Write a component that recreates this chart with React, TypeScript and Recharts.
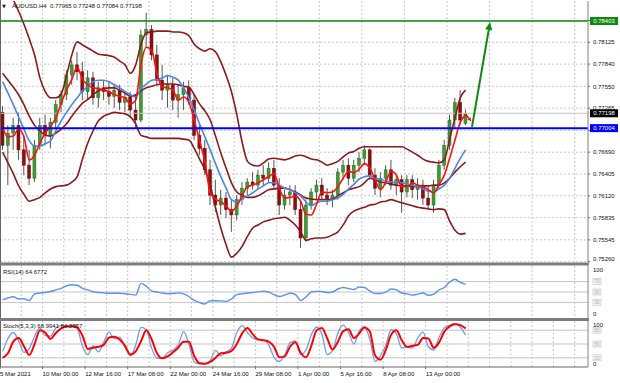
import * as React from "react"
import { Bar, CartesianGrid, ComposedChart, Line, ReferenceLine, XAxis, YAxis } from "recharts"

// AUDUSD H4 candles, one entry per drawn candle
const open = [
    0.7721, 0.7678, 0.7694, 0.7704, 0.7672, 0.7652, 0.7635, 0.7678, 0.7704, 0.7691,
    0.7708, 0.7731, 0.7744, 0.7770, 0.7783, 0.7774, 0.7748, 0.7766, 0.7740, 0.7753,
    0.7748, 0.7742, 0.7750, 0.7734, 0.7741, 0.7724, 0.7711, 0.7822, 0.7829, 0.7796,
    0.7763, 0.7750, 0.7757, 0.7737, 0.7744, 0.7753, 0.7737, 0.7691, 0.7674, 0.7646,
    0.7613, 0.7600, 0.7609, 0.7594, 0.7587, 0.7607, 0.7622, 0.7630, 0.7626, 0.7639,
    0.7635, 0.7648, 0.7626, 0.7600, 0.7613, 0.7617, 0.7594, 0.7557, 0.7600, 0.7617,
    0.7626, 0.7613, 0.7607, 0.7613, 0.7643, 0.7652, 0.7635, 0.7652, 0.7661, 0.7672,
    0.7639, 0.7622, 0.7635, 0.7646, 0.7626, 0.7633, 0.7617, 0.7633, 0.7620, 0.7626,
    0.7609, 0.7600, 0.7626, 0.7652, 0.7678, 0.7711, 0.7734, 0.77065,
]
const high = [
    0.7729, 0.7704, 0.7714, 0.7721, 0.7691, 0.7672, 0.7685, 0.7714, 0.7718, 0.7714,
    0.7737, 0.7750, 0.7776, 0.7789, 0.7800, 0.7787, 0.7776, 0.7774, 0.7761, 0.7763,
    0.7761, 0.7757, 0.7757, 0.7748, 0.7748, 0.7744, 0.7829, 0.7851, 0.7835, 0.7809,
    0.7783, 0.7770, 0.7766, 0.7757, 0.7761, 0.7763, 0.7744, 0.7704, 0.7685, 0.7659,
    0.7633, 0.7620, 0.7617, 0.7607, 0.7613, 0.7630, 0.7635, 0.7643, 0.7646, 0.7652,
    0.7656, 0.7659, 0.7635, 0.7620, 0.7626, 0.7626, 0.7607, 0.7607, 0.7622, 0.7633,
    0.7635, 0.7622, 0.7620, 0.7648, 0.7659, 0.7661, 0.7659, 0.7669, 0.7678, 0.7674,
    0.7648, 0.7643, 0.7652, 0.7659, 0.7639, 0.7639, 0.7639, 0.7639, 0.7635, 0.7633,
    0.7626, 0.7633, 0.7659, 0.7685, 0.7718, 0.7740, 0.7750, 0.77248,
]
const low = [
    0.7672, 0.7626, 0.7672, 0.7659, 0.7639, 0.7626, 0.7630, 0.7672, 0.7678, 0.7674,
    0.7701, 0.7721, 0.7737, 0.7757, 0.7763, 0.7737, 0.7737, 0.7731, 0.7727, 0.7737,
    0.7731, 0.7727, 0.7724, 0.7721, 0.7714, 0.7701, 0.7708, 0.7805, 0.7789, 0.7757,
    0.7737, 0.7727, 0.7724, 0.7714, 0.7724, 0.7731, 0.7685, 0.7665, 0.7639, 0.7600,
    0.7591, 0.7587, 0.7583, 0.7565, 0.7580, 0.7600, 0.7613, 0.7620, 0.7620, 0.7626,
    0.7630, 0.7620, 0.7587, 0.7594, 0.7600, 0.7587, 0.7544, 0.7552, 0.7594, 0.7607,
    0.7607, 0.7600, 0.7597, 0.7607, 0.7633, 0.7626, 0.7630, 0.7643, 0.7652, 0.7633,
    0.7613, 0.7610, 0.7626, 0.7620, 0.7613, 0.7590, 0.7610, 0.7609, 0.7607, 0.7600,
    0.7594, 0.7590, 0.7620, 0.7646, 0.7672, 0.7701, 0.7704, 0.7704,
]
const close = [
    0.7678, 0.7694, 0.7704, 0.7672, 0.7652, 0.7635, 0.7678, 0.7704, 0.7691, 0.7708,
    0.7731, 0.7744, 0.7770, 0.7783, 0.7774, 0.7748, 0.7766, 0.7740, 0.7753, 0.7748,
    0.7742, 0.7750, 0.7734, 0.7741, 0.7724, 0.7711, 0.7822, 0.7829, 0.7796, 0.7763,
    0.7750, 0.7757, 0.7737, 0.7744, 0.7753, 0.7737, 0.7691, 0.7674, 0.7646, 0.7613,
    0.7600, 0.7609, 0.7594, 0.7587, 0.7607, 0.7622, 0.7630, 0.7626, 0.7639, 0.7635,
    0.7648, 0.7626, 0.7600, 0.7613, 0.7617, 0.7594, 0.7557, 0.7600, 0.7617, 0.7626,
    0.7613, 0.7607, 0.7613, 0.7643, 0.7652, 0.7635, 0.7652, 0.7661, 0.7672, 0.7639,
    0.7622, 0.7635, 0.7646, 0.7626, 0.7633, 0.7617, 0.7633, 0.7620, 0.7626, 0.7609,
    0.7600, 0.7626, 0.7652, 0.7678, 0.7711, 0.7734, 0.7711, 0.77198,
]

// moving averages and bollinger bands at the same candles
const maFast = [
    0.7701, 0.7689, 0.7690, 0.7699, 0.7689, 0.7659, 0.7665, 0.7681, 0.7694, 0.7703,
    0.7714, 0.7733, 0.7750, 0.7764, 0.7780, 0.7764, 0.7757, 0.7753, 0.7752, 0.7750,
    0.7748, 0.7744, 0.7742, 0.7740, 0.7732, 0.7737, 0.7784, 0.7806, 0.7802, 0.7772,
    0.7754, 0.7753, 0.7750, 0.7737, 0.7741, 0.7734, 0.7711, 0.7684, 0.7657, 0.7616,
    0.7608, 0.7604, 0.7599, 0.7592, 0.7599, 0.7612, 0.7624, 0.7626, 0.7629, 0.7633,
    0.7637, 0.7641, 0.7622, 0.7609, 0.7610, 0.7612, 0.7605, 0.7588, 0.7587, 0.7601,
    0.7617, 0.7616, 0.7617, 0.7624, 0.7635, 0.7644, 0.7642, 0.7647, 0.7654, 0.7648,
    0.7633, 0.7620, 0.7630, 0.7644, 0.7639, 0.7624, 0.7624, 0.7629, 0.7626, 0.7624,
    0.7620, 0.7616, 0.7627, 0.7639, 0.7661, 0.7685, 0.7708, 0.7718,
]
const maSlow = [
    0.7761, 0.7746, 0.7731, 0.7715, 0.7699, 0.7684, 0.7677, 0.7677, 0.7680, 0.7684,
    0.7697, 0.7710, 0.7721, 0.7731, 0.7740, 0.7749, 0.7755, 0.7761, 0.7763, 0.7763,
    0.7761, 0.7757, 0.7753, 0.7748, 0.7744, 0.7741, 0.7752, 0.7758, 0.7763, 0.7764,
    0.7766, 0.7769, 0.7767, 0.7763, 0.7753, 0.7740, 0.7724, 0.7706, 0.7689, 0.7672,
    0.7654, 0.7637, 0.7622, 0.7607, 0.7604, 0.7608, 0.7612, 0.7616, 0.7621, 0.7625,
    0.7629, 0.7629, 0.7626, 0.7622, 0.7620, 0.7616, 0.7612, 0.7604, 0.7599, 0.7603,
    0.7605, 0.7605, 0.7607, 0.7609, 0.7614, 0.7621, 0.7627, 0.7634, 0.7637, 0.7638,
    0.7635, 0.7634, 0.7631, 0.7630, 0.7629, 0.7629, 0.7627, 0.7626, 0.7624, 0.7621,
    0.7618, 0.7617, 0.7621, 0.7626, 0.7635, 0.7648, 0.7661, 0.7672,
]
const bbUpper = [
    0.7902, 0.7883, 0.7868, 0.7853, 0.7836, 0.7817, 0.7796, 0.7766, 0.7748, 0.7740,
    0.7740, 0.7745, 0.7769, 0.7796, 0.7813, 0.7809, 0.7805, 0.7801, 0.7797, 0.7796,
    0.7795, 0.7793, 0.7788, 0.7783, 0.7772, 0.7783, 0.7810, 0.7825, 0.7826, 0.7827,
    0.7827, 0.7827, 0.7826, 0.7826, 0.7825, 0.7821, 0.7810, 0.7804, 0.7801, 0.7804,
    0.7800, 0.7787, 0.7769, 0.7748, 0.7718, 0.7682, 0.7657, 0.7652, 0.7651, 0.7655,
    0.7660, 0.7661, 0.7660, 0.7659, 0.7661, 0.7664, 0.7665, 0.7663, 0.7660, 0.7659,
    0.7656, 0.7652, 0.7654, 0.7657, 0.7663, 0.7668, 0.7670, 0.7674, 0.7676, 0.7676,
    0.7676, 0.7676, 0.7676, 0.7676, 0.7676, 0.7676, 0.7673, 0.7669, 0.7665, 0.7660,
    0.7657, 0.7656, 0.7655, 0.7659, 0.7686, 0.7714, 0.7740, 0.7750,
]
const bbMid = [
    0.7772, 0.7763, 0.7754, 0.7744, 0.7731, 0.7716, 0.7704, 0.7697, 0.7691, 0.7690,
    0.7694, 0.7699, 0.7706, 0.7716, 0.7725, 0.7733, 0.7738, 0.7744, 0.7749, 0.7752,
    0.7753, 0.7753, 0.7750, 0.7746, 0.7742, 0.7744, 0.7749, 0.7753, 0.7755, 0.7757,
    0.7758, 0.7758, 0.7758, 0.7757, 0.7755, 0.7754, 0.7744, 0.7732, 0.7723, 0.7711,
    0.7690, 0.7668, 0.7648, 0.7629, 0.7617, 0.7613, 0.7610, 0.7610, 0.7612, 0.7616,
    0.7620, 0.7621, 0.7622, 0.7622, 0.7620, 0.7617, 0.7613, 0.7609, 0.7608, 0.7607,
    0.7607, 0.7607, 0.7608, 0.7612, 0.7616, 0.7620, 0.7622, 0.7624, 0.7629, 0.7635,
    0.7633, 0.7630, 0.7629, 0.7627, 0.7626, 0.7625, 0.7625, 0.7624, 0.7624, 0.7625,
    0.7625, 0.7626, 0.7626, 0.7629, 0.7635, 0.7643, 0.7650, 0.7656,
]
const bbLower = [
    0.7669, 0.7655, 0.7641, 0.7625, 0.7614, 0.7605, 0.7607, 0.7610, 0.7616, 0.7621,
    0.7624, 0.7625, 0.7626, 0.7630, 0.7637, 0.7660, 0.7681, 0.7697, 0.7710, 0.7716,
    0.7719, 0.7721, 0.7720, 0.7719, 0.7715, 0.7706, 0.7691, 0.7689, 0.7687, 0.7687,
    0.7687, 0.7687, 0.7687, 0.7687, 0.7686, 0.7685, 0.7674, 0.7660, 0.7646, 0.7626,
    0.7597, 0.7570, 0.7548, 0.7532, 0.7537, 0.7546, 0.7559, 0.7570, 0.7574, 0.7578,
    0.7580, 0.7582, 0.7583, 0.7584, 0.7580, 0.7574, 0.7565, 0.7554, 0.7556, 0.7557,
    0.7557, 0.7558, 0.7561, 0.7565, 0.7574, 0.7586, 0.7592, 0.7595, 0.7597, 0.7600,
    0.7601, 0.7604, 0.7605, 0.7607, 0.7605, 0.7603, 0.7601, 0.7599, 0.7597, 0.7596,
    0.7595, 0.7594, 0.7595, 0.7594, 0.7579, 0.7567, 0.7562, 0.7563,
]

// oscillators
const rsi = [
    35, 38.5, 41, 36.5, 37, 33.5, 46.5, 48, 49, 51,
    54, 57, 62, 64, 63, 57, 54, 50.5, 49, 48.5,
    47.5, 47.5, 47.5, 46.7, 45.5, 44, 66.5, 61, 52, 50,
    48, 46.7, 47, 48.3, 46.5, 41.3, 33.7, 29.8, 27, 33.3,
    33.3, 33, 32, 36.5, 45, 46.5, 48, 49, 50.2, 51.5,
    50, 44.8, 41.3, 44.2, 47.5, 45.2, 33.7, 40.4, 50, 51.2,
    51, 49, 50, 55.8, 58.7, 56.7, 54.8, 59.6, 58.7, 52,
    47, 47, 49.6, 55.8, 54.2, 48, 46.5, 44.2, 46, 48,
    43.8, 46, 53.8, 58.7, 69.2, 74.4, 68.3, 64.68,
]
const stochK = [
    34, 62, 75, 57, 32, 40, 67, 85, 68, 67,
    85, 90, 90, 88, 84, 45, 27, 46, 33, 54,
    76, 61, 65, 43, 24, 48, 86, 81, 41, 19,
    19, 31, 37, 48, 77, 50, 11, 7, 7, 14,
    36, 24, 33, 41, 75, 90, 75, 63, 59, 59,
    48, 21, 12, 26, 53, 57, 27, 37, 70, 87,
    71, 27, 36, 74, 91, 75, 50, 78, 87, 60,
    12, 25, 47, 81, 72, 41, 43, 41, 63, 76,
    44, 37, 64, 85, 91, 94, 87, 69,
]
const stochD = [
    20, 30, 55, 63, 45, 26, 50, 80, 75, 61,
    74, 84, 88, 89, 86, 68, 39, 42, 44, 48,
    64, 66, 60, 46, 27, 34, 56, 80, 60, 30,
    19, 23, 32, 42, 55, 55, 24, 8, 7, 11,
    20, 30, 31, 35, 50, 73, 85, 71, 60, 58,
    55, 44, 21, 23, 44, 54, 31, 21, 46, 80,
    85, 62, 38, 55, 78, 82, 63, 73, 86, 77,
    25, 16, 37, 70, 80, 58, 44, 46, 48, 63,
    62, 42, 53, 77, 88, 93, 91, 84,
]

// axes (x is counted in H4 bars)
const timeTicks = [0, 16, 32, 48, 64, 80, 96, 112, 128, 144, 160]
const timeLabels = [
    "5 Mar 2021", "10 Mar 00:00", "12 Mar 16:00", "17 Mar 08:00", "22 Mar 00:00", "24 Mar 16:00",
    "29 Mar 08:00", "1 Apr 00:00", "5 Apr 16:00", "8 Apr 08:00", "13 Apr 00:00",
]
const gridTicks = [
    0, 8, 16, 24, 32, 40, 48, 56, 64, 72, 80, 88, 96, 104, 112, 120, 128, 136, 144, 152,
    160, 168, 176, 184, 192, 200, 208, 216,
]
const priceTicks = [
    0.7841, 0.78125, 0.7784, 0.7755, 0.77265, 0.76975, 0.7669, 0.76405, 0.7612, 0.75835, 0.75545, 0.7526,
]
const hiddenPriceTicks = [0.7841, 0.76975]
const rsiLevels = [30, 50, 70]
const stochLevels = [20, 50, 80]

// levels and drawn objects
const resistance = 0.78403
const support = 0.77004
const bid = 0.77198
const arrowUp = [{ x: 177.4, y: 0.7702 }, { x: 184.2, y: 0.7839 }]
const arrowDown = [{ x: 175.1, y: 0.7718 }, { x: 177.2, y: 0.7709 }]

const FONT = "'Liberation Sans', Arial, sans-serif"
const X_DOMAIN: [number, number] = [0, 221]
const BAND = "#8c1a1a"

const rows = open.map((o, i) => ({
    x: 1 + 2 * i,
    o,
    h: high[i],
    l: low[i],
    c: close[i],
    range: [low[i], high[i]],
    fast: maFast[i],
    slow: maSlow[i],
    upper: bbUpper[i],
    mid: bbMid[i],
    lower: bbLower[i],
    rsi: rsi[i],
    k: stochK[i],
    d: stochD[i],
}))

const Candle = (props: any) => {
    const { x, y, width, height, payload } = props
    if (x == null || y == null || !payload) return null
    const top = Math.min(y, y + height)
    const bottom = Math.max(y, y + height)
    const cx = x + width / 2
    const span = payload.h - payload.l
    const k = span > 0 ? (bottom - top) / span : 0
    const yo = top + (payload.h - payload.o) * k
    const yc = top + (payload.h - payload.c) * k
    const up = payload.c >= payload.o
    return (
        <g>
            <line x1={cx} x2={cx} y1={top} y2={bottom} stroke="#555" strokeWidth={1} />
            <rect
                x={cx - 1.5}
                y={Math.min(yo, yc)}
                width={3}
                height={Math.max(1, Math.abs(yc - yo))}
                fill={up ? "#3d9a33" : "#8b1010"}
                stroke={up ? "#2b6e22" : "#650808"}
                strokeWidth={0.5}
            />
        </g>
    )
}

const PriceTick = (props: any) => {
    const { x, y, payload } = props
    if (hiddenPriceTicks.includes(payload.value)) return null
    // the lowest label sits right on the splitter, keep it above it
    const dy = payload.value === 0.7526 ? -0.6 : 2.2
    return (
        <text x={x} y={y + dy} fontSize={6} fontFamily={FONT} fill="#111">
            {payload.value.toFixed(5)}
        </text>
    )
}

const levelTick = (topShift: number, bottomShift: number) => (props: any) => {
    const { x, y, payload } = props
    const v = payload.value
    if (v === 100) return <text x={x} y={y + topShift} fontSize={6} fontFamily={FONT} fill="#111">100</text>
    if (v === 0) return <text x={x} y={y + bottomShift} fontSize={6} fontFamily={FONT} fill="#111">0</text>
    return (
        <g>
            <rect x={x} y={y - 3} width={8} height={6} fill="#f4f4f4" stroke="#c4c4c4" strokeWidth={0.6} />
            <text x={x + 4} y={y + 1.7} textAnchor="middle" fontSize={4.5} fontFamily={FONT} fill="#aaa">{v}</text>
        </g>
    )
}

const TimeTick = (props: any) => {
    const { x, y, payload } = props
    const idx = timeTicks.indexOf(payload.value)
    if (idx < 0) return null
    return (
        <text x={x} y={y + 6} fontSize={6.1} fontFamily={FONT} fill="#111">
            {timeLabels[idx]}
        </text>
    )
}

const priceTag = (fill: string, value: number) => (props: any) => {
    const vb = props.viewBox
    if (!vb) return null
    const x = vb.x + vb.width + 2
    return (
        <g>
            <rect x={x} y={vb.y - 4} width={28} height={8} fill={fill} />
            <text x={x + 14} y={vb.y + 2.2} textAnchor="middle" fontSize={6} fontFamily={FONT} fill="#fff">
                {value.toFixed(5)}
            </text>
        </g>
    )
}

const arrowShape = (color: string, w: number, head: number) => (p: any) => {
    const { x1, y1, x2, y2 } = p
    if ([x1, y1, x2, y2].some((v) => v == null || isNaN(v))) return null
    const a = Math.atan2(y2 - y1, x2 - x1)
    const hx = x2 - head * Math.cos(a)
    const hy = y2 - head * Math.sin(a)
    const px = -Math.sin(a) * head * 0.45
    const py = Math.cos(a) * head * 0.45
    return (
        <g>
            <line x1={x1} y1={y1} x2={hx} y2={hy} stroke={color} strokeWidth={w} />
            <polygon points={`${x2},${y2} ${hx + px},${hy + py} ${hx - px},${hy - py}`} fill={color} />
        </g>
    )
}

const line = (key: string, color: string, width: number) => (
    <Line
        dataKey={key}
        type="monotone"
        stroke={color}
        strokeWidth={width}
        dot={false}
        activeDot={false}
        isAnimationActive={false}
    />
)

export default function App() {
    return (
        <div style={{ position: "absolute", left: 0, top: 0, width: 620, height: 383, background: "#fff", overflow: "hidden" }}>
            {/* price window */}
            <div style={{ position: "absolute", left: 0, top: 0 }}>
                <ComposedChart width={620} height={263} data={rows} margin={{ top: 1, right: 0, bottom: 1, left: 0 }}>
                    <CartesianGrid stroke="#c8c8c8" strokeDasharray="2 2" verticalValues={gridTicks} horizontalValues={priceTicks} />
                    <XAxis type="number" dataKey="x" domain={X_DOMAIN} ticks={gridTicks} allowDataOverflow hide />
                    <YAxis
                        orientation="right"
                        width={32}
                        type="number"
                        domain={[0.75256, 0.78664]}
                        ticks={priceTicks}
                        interval={0}
                        allowDataOverflow
                        tick={<PriceTick />}
                        tickSize={2}
                        tickMargin={3}
                        tickLine={{ stroke: "#666" }}
                        axisLine={{ stroke: "#808080" }}
                    />
                    <ReferenceLine y={bid} stroke="#c4c4c4" strokeWidth={1} label={{ content: priceTag("#000", bid) }} />
                    <Bar dataKey="range" barSize={3} shape={<Candle />} isAnimationActive={false} />
                    {line("upper", BAND, 1.6)}
                    {line("mid", BAND, 1.6)}
                    {line("lower", BAND, 1.6)}
                    {line("slow", "#4a86e8", 1.6)}
                    {line("fast", "#ff1010", 1.6)}
                    <ReferenceLine y={support} stroke="#0000ff" strokeWidth={2} label={{ content: priceTag("#0000ff", support) }} />
                    <ReferenceLine y={resistance} stroke="#0b8a0b" strokeWidth={1.5} label={{ content: priceTag("#0b8a0b", resistance) }} />
                    <ReferenceLine segment={arrowUp} shape={arrowShape("#0b8a0b", 2, 8)} />
                    <ReferenceLine segment={arrowDown} shape={arrowShape("#ff0000", 1.5, 4)} />
                </ComposedChart>
            </div>

            {/* RSI window */}
            <div style={{ position: "absolute", left: 0, top: 266 }}>
                <ComposedChart width={620} height={52} data={rows} margin={{ top: 0, right: 0, bottom: 0, left: 0 }}>
                    <CartesianGrid stroke="#c8c8c8" strokeDasharray="2 2" horizontal={false} verticalValues={gridTicks} />
                    <XAxis type="number" dataKey="x" domain={X_DOMAIN} ticks={gridTicks} allowDataOverflow hide />
                    <YAxis
                        orientation="right"
                        width={32}
                        type="number"
                        domain={[0, 100]}
                        ticks={[0, 30, 50, 70, 100]}
                        interval={0}
                        tick={levelTick(6.2, -2.5)}
                        tickSize={2}
                        tickMargin={3}
                        tickLine={false}
                        axisLine={{ stroke: "#808080" }}
                    />
                    {rsiLevels.map((v) => (
                        <ReferenceLine key={v} y={v} stroke="#c4c4c4" strokeWidth={1} />
                    ))}
                    {line("rsi", "#5b93ee", 1.4)}
                </ComposedChart>
            </div>

            {/* Stochastic window */}
            <div style={{ position: "absolute", left: 0, top: 321 }}>
                <ComposedChart width={620} height={62} data={rows} margin={{ top: 0, right: 0, bottom: 0, left: 0 }}>
                    <CartesianGrid stroke="#c8c8c8" strokeDasharray="2 2" horizontal={false} verticalValues={gridTicks} />
                    <XAxis
                        type="number"
                        dataKey="x"
                        domain={X_DOMAIN}
                        ticks={timeTicks}
                        interval={0}
                        allowDataOverflow
                        height={16}
                        tick={<TimeTick />}
                        tickSize={2}
                        tickMargin={1}
                        tickLine={{ stroke: "#666" }}
                        axisLine={{ stroke: "#666" }}
                    />
                    <YAxis
                        orientation="right"
                        width={32}
                        type="number"
                        domain={[0, 100]}
                        ticks={[0, 20, 50, 80, 100]}
                        interval={0}
                        tick={levelTick(5.5, -1.5)}
                        tickSize={2}
                        tickMargin={3}
                        tickLine={false}
                        axisLine={{ stroke: "#808080" }}
                    />
                    {stochLevels.map((v) => (
                        <ReferenceLine key={v} y={v} stroke="#c4c4c4" strokeWidth={1} />
                    ))}
                    {line("k", "#6a9ff0", 1.3)}
                    {line("d", "#ff0000", 2)}
                </ComposedChart>
            </div>

            {/* window frame, splitters and titles */}
            <svg width={620} height={383} style={{ position: "absolute", left: 0, top: 0, pointerEvents: "none" }}>
                <line x1={0.5} y1={0} x2={0.5} y2={367} stroke="#666" />
                <rect x={0} y={262.5} width={589} height={3} fill="#7d7d7d" />
                <rect x={0} y={318} width={589} height={3} fill="#7d7d7d" />
                <text x={2} y={8} fontSize={5} fontFamily="'DejaVu Sans', sans-serif" fill="#222">▼</text>
                <text x={12} y={8.3} fontSize={6} fontFamily={FONT} fill="#111" style={{ whiteSpace: "pre" }}>
                    AUDUSD.H4  0.77065 0.77248 0.77084 0.77198
                </text>
                <text x={3} y={273.6} fontSize={6} fontFamily={FONT} fill="#111">RSI(14) 64.6772</text>
                <text x={3} y={327.8} fontSize={6} fontFamily={FONT} fill="#111">Stoch(5,3,3) 68.9941 84.2357</text>
            </svg>
        </div>
    )
}
